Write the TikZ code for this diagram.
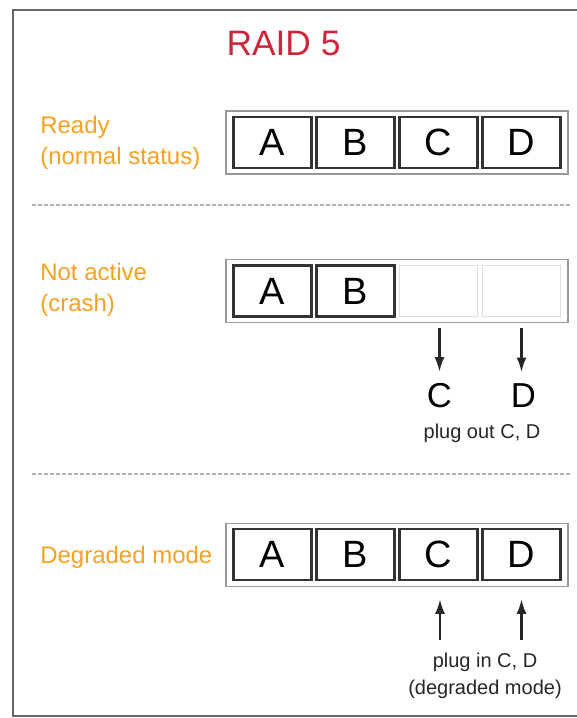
\documentclass[tikz,border=0pt]{standalone}
\usepackage{fontspec}
\setmainfont{Liberation Sans}
\usetikzlibrary{arrows.meta}
\definecolor{titlered}{RGB}{205,38,60}
\definecolor{lblorange}{RGB}{245,162,35}
\begin{document}
\begin{tikzpicture}[x=0.75pt,y=-0.75pt,
  frame/.style={draw=black!60, line width=1.5pt},
  sepline/.style={draw=black!30, line width=0.9pt, dash pattern=on 3pt off 1.5pt},
  container/.style={draw=black!40, line width=1.3pt, fill=white, minimum width=256.5pt, minimum height=47.25pt, inner sep=0},
  cell/.style={draw=black!80, line width=1.7pt, fill=white, minimum width=58.5pt, minimum height=38.25pt, inner sep=0, font=\fontsize{28.5}{30}\selectfont},
  emptycell/.style={cell, draw=black!13, line width=1.4pt},
  lbl/.style={text=lblorange, align=left, inner sep=0, font=\fontsize{18}{23}\selectfont},
  small/.style={text=black!85, align=center, inner sep=0, font=\fontsize{15}{20}\selectfont},
  big/.style={inner sep=0, font=\fontsize{26}{30}\selectfont},
  arr/.style={-{Latex[length=11pt,width=7.5pt]}, line width=1.8pt, draw=black!85}
]
\useasboundingbox (0,0) rectangle (577,718);
\clip (0,0) rectangle (577,718);
\fill[white] (0,0) rectangle (577,718);
\draw[frame] (13,10) rectangle (600,716);

\node[font=\fontsize{26.5}{30}\selectfont, text=titlered, inner sep=0] (title) at (283.5,43.5) {RAID 5};

% row 1
\node[lbl, anchor=west] (l1) at (40,143) {Ready\\(normal status)};
\node[container] (r1) at (397,142.5) {};
\node[cell] (a1) at (272.5,142.5) {A};
\node[cell] (b1) at (355.5,142.5) {B};
\node[cell] (c1) at (438.5,142.5) {C};
\node[cell] (d1) at (521.5,142.5) {D};

\draw[sepline] (32,205) -- (570,205);

% row 2
\node[lbl, anchor=west] (l2) at (40,290) {Not active\\(crash)};
\node[container] (r2) at (397,291) {};
\node[cell] (a2) at (272.5,291) {A};
\node[cell] (b2) at (355.5,291) {B};
\node[emptycell] (c2) at (438.5,291) {};
\node[emptycell] (d2) at (521.5,291) {};
\node[big] (oc) at (439.5,396) {C};
\node[big] (od) at (523.5,396) {D};
\draw[arr, shorten <=8.25pt, shorten >=8.7pt] (c2.south -| oc) -- (oc.north);
\draw[arr, shorten <=8.25pt, shorten >=8.7pt] (d2.south) -- (d2.south |- od.north);
\node[small] (po) at (482,433) {plug out C, D};

\draw[sepline] (32,474) -- (570,474);

% row 3
\node[lbl, anchor=west] (l3) at (40,557) {Degraded mode};
\node[container] (r3) at (397,555) {};
\node[cell] (a3) at (272.5,554.5) {A};
\node[cell] (b3) at (355.5,554.5) {B};
\node[cell] (c3) at (438.5,554.5) {C};
\node[cell] (d3) at (521.5,554.5) {D};
\coordinate (pc) at (440,640);
\coordinate (pd) at (521.5,640);
\draw[arr, shorten >=13.5pt] (pc) -- (pc |- c3.south);
\draw[arr, shorten >=13.5pt] (pd) -- (d3.south);
\node[small] (pi) at (485,676) {plug in C, D\\(degraded mode)};
\end{tikzpicture}
\end{document}
